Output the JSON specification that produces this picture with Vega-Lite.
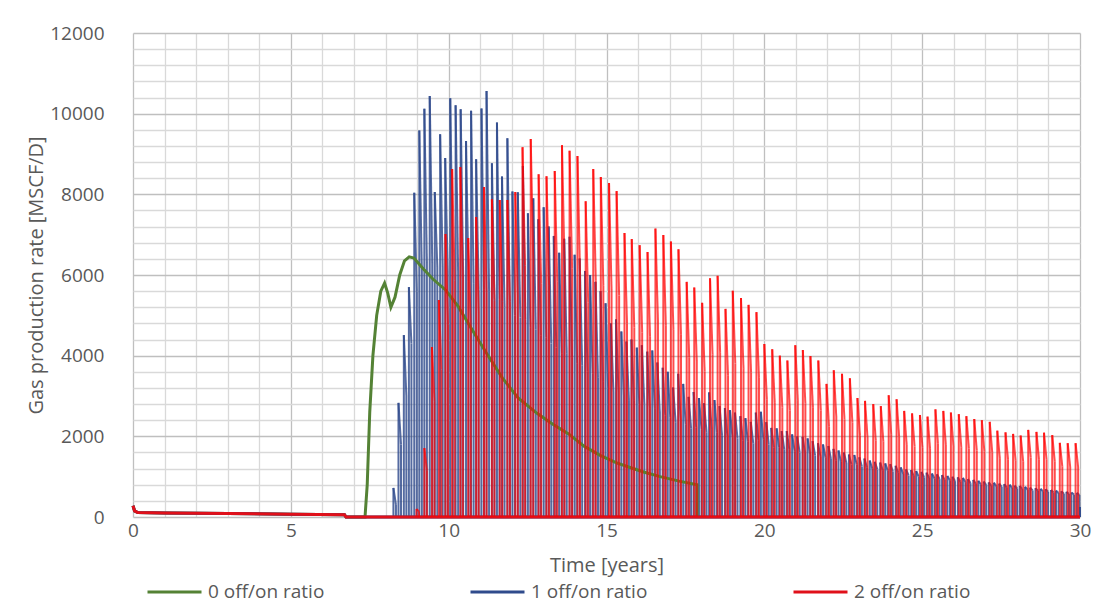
{
"$schema": "https://vega.github.io/schema/vega-lite/v6.json",
"width": 947, "height": 484,
"autosize": {"type": "none"},
"padding": {"left": 133, "top": 33, "right": 25, "bottom": 86},
"background": "white",
"config": {"view": {"stroke": null}, "font": "Open Sans",
  "axis": {"ticks": false, "domain": false, "labelFontSize": 19, "labelColor": "#595959", "titleFontSize": 20, "titleFontWeight": "normal", "titleColor": "#595959", "gridWidth": 1.3, "labelOverlap": false, "labelFlush": false}},
"datasets": {
"lines": [
{"s":"0 off/on ratio","i":0,"t":0,"v":280},{"s":"0 off/on ratio","i":1,"t":0.05,"v":150},{"s":"0 off/on ratio","i":2,"t":0.15,"v":110},{"s":"0 off/on ratio","i":3,"t":1,"v":100},{"s":"0 off/on ratio","i":4,"t":3,"v":85},{"s":"0 off/on ratio","i":5,"t":5,"v":70},{"s":"0 off/on ratio","i":6,"t":6.7,"v":55},{"s":"0 off/on ratio","i":7,"t":6.75,"v":0},{"s":"0 off/on ratio","i":8,"t":7.35,"v":0},{"s":"0 off/on ratio","i":9,"t":7.42,"v":800},{"s":"0 off/on ratio","i":10,"t":7.5,"v":2600},{"s":"0 off/on ratio","i":11,"t":7.6,"v":4000},{"s":"0 off/on ratio","i":12,"t":7.72,"v":5000},{"s":"0 off/on ratio","i":13,"t":7.85,"v":5600},{"s":"0 off/on ratio","i":14,"t":7.97,"v":5800},{"s":"0 off/on ratio","i":15,"t":8.07,"v":5550},{"s":"0 off/on ratio","i":16,"t":8.17,"v":5200},{"s":"0 off/on ratio","i":17,"t":8.3,"v":5450},{"s":"0 off/on ratio","i":18,"t":8.45,"v":6000},{"s":"0 off/on ratio","i":19,"t":8.6,"v":6350},{"s":"0 off/on ratio","i":20,"t":8.75,"v":6450},{"s":"0 off/on ratio","i":21,"t":8.9,"v":6420},{"s":"0 off/on ratio","i":22,"t":9.2,"v":6150},{"s":"0 off/on ratio","i":23,"t":9.5,"v":5900},{"s":"0 off/on ratio","i":24,"t":9.9,"v":5630},{"s":"0 off/on ratio","i":25,"t":10.3,"v":5220},{"s":"0 off/on ratio","i":26,"t":10.7,"v":4700},{"s":"0 off/on ratio","i":27,"t":11.2,"v":4060},{"s":"0 off/on ratio","i":28,"t":11.7,"v":3450},{"s":"0 off/on ratio","i":29,"t":12.2,"v":2950},{"s":"0 off/on ratio","i":30,"t":12.8,"v":2570},{"s":"0 off/on ratio","i":31,"t":13.3,"v":2300},{"s":"0 off/on ratio","i":32,"t":13.8,"v":2060},{"s":"0 off/on ratio","i":33,"t":14.3,"v":1750},{"s":"0 off/on ratio","i":34,"t":14.8,"v":1530},{"s":"0 off/on ratio","i":35,"t":15.3,"v":1350},{"s":"0 off/on ratio","i":36,"t":15.7,"v":1240},{"s":"0 off/on ratio","i":37,"t":16.2,"v":1110},{"s":"0 off/on ratio","i":38,"t":16.7,"v":1000},{"s":"0 off/on ratio","i":39,"t":17.3,"v":890},{"s":"0 off/on ratio","i":40,"t":17.87,"v":800},{"s":"0 off/on ratio","i":41,"t":17.87,"v":0},
{"s":"1 off/on ratio","i":0,"t":0,"v":280},{"s":"1 off/on ratio","i":1,"t":0.05,"v":150},{"s":"1 off/on ratio","i":2,"t":0.15,"v":110},{"s":"1 off/on ratio","i":3,"t":1,"v":100},{"s":"1 off/on ratio","i":4,"t":3,"v":85},{"s":"1 off/on ratio","i":5,"t":5,"v":70},{"s":"1 off/on ratio","i":6,"t":6.7,"v":55},{"s":"1 off/on ratio","i":7,"t":6.75,"v":0},{"s":"1 off/on ratio","i":8,"t":30,"v":0},
{"s":"2 off/on ratio","i":0,"t":0,"v":280},{"s":"2 off/on ratio","i":1,"t":0.05,"v":150},{"s":"2 off/on ratio","i":2,"t":0.15,"v":110},{"s":"2 off/on ratio","i":3,"t":1,"v":100},{"s":"2 off/on ratio","i":4,"t":3,"v":85},{"s":"2 off/on ratio","i":5,"t":5,"v":70},{"s":"2 off/on ratio","i":6,"t":6.7,"v":55},{"s":"2 off/on ratio","i":7,"t":6.75,"v":0},{"s":"2 off/on ratio","i":8,"t":30,"v":0}
],
"blue": [
{"t":8.25,"u":8.33,"p":720,"e":300},{"t":8.41,"u":8.49,"p":2830,"e":1800},{"t":8.58,"u":8.66,"p":4510,"e":3000},{"t":8.74,"u":8.82,"p":5700,"e":4300},{"t":8.91,"u":8.99,"p":8040,"e":5600},{"t":9.07,"u":9.15,"p":9580,"e":6100},{"t":9.23,"u":9.31,"p":10120,"e":6300},{"t":9.40,"u":9.48,"p":10440,"e":6300},{"t":9.56,"u":9.64,"p":8060,"e":6200},{"t":9.73,"u":9.81,"p":9490,"e":6200},{"t":9.89,"u":9.97,"p":8900,"e":6100},{"t":10.05,"u":10.13,"p":10380,"e":6150},{"t":10.22,"u":10.30,"p":10210,"e":6050},{"t":10.38,"u":10.46,"p":10110,"e":5950},{"t":10.55,"u":10.63,"p":9320,"e":5850},{"t":10.71,"u":10.79,"p":10070,"e":5800},{"t":10.87,"u":10.95,"p":8870,"e":5650},{"t":11.04,"u":11.12,"p":10130,"e":5650},{"t":11.20,"u":11.28,"p":10560,"e":5600},{"t":11.37,"u":11.45,"p":8770,"e":5400},{"t":11.53,"u":11.61,"p":9780,"e":5400},{"t":11.69,"u":11.77,"p":8440,"e":5200},{"t":11.86,"u":11.94,"p":9390,"e":5200},{"t":12.02,"u":12.10,"p":8070,"e":5000},{"t":12.19,"u":12.27,"p":8050,"e":4950},{"t":12.35,"u":12.43,"p":8700,"e":4900},{"t":12.51,"u":12.59,"p":7530,"e":4700},{"t":12.68,"u":12.76,"p":7900,"e":4650},{"t":12.84,"u":12.92,"p":7380,"e":4500},{"t":13.01,"u":13.09,"p":7680,"e":4450},{"t":13.17,"u":13.25,"p":7200,"e":4300},{"t":13.33,"u":13.41,"p":6970,"e":4200},{"t":13.50,"u":13.58,"p":6550,"e":4050},{"t":13.66,"u":13.74,"p":6900,"e":4050},{"t":13.83,"u":13.91,"p":6950,"e":3950},{"t":13.99,"u":14.07,"p":6500,"e":3800},{"t":14.15,"u":14.23,"p":6410,"e":3750},{"t":14.32,"u":14.40,"p":6100,"e":3600},{"t":14.48,"u":14.56,"p":6000,"e":3550},{"t":14.65,"u":14.73,"p":5830,"e":3450},{"t":14.81,"u":14.89,"p":5600,"e":3350},{"t":14.97,"u":15.05,"p":5300,"e":3250},{"t":15.14,"u":15.22,"p":4800,"e":3100},{"t":15.30,"u":15.38,"p":4900,"e":3100},{"t":15.47,"u":15.55,"p":4600,"e":3000},{"t":15.63,"u":15.71,"p":4350,"e":2900},{"t":15.79,"u":15.87,"p":4400,"e":2880},{"t":15.96,"u":16.04,"p":4200,"e":2800},{"t":16.12,"u":16.20,"p":4260,"e":2780},{"t":16.29,"u":16.37,"p":4100,"e":2700},{"t":16.45,"u":16.53,"p":4130,"e":2680},{"t":16.61,"u":16.69,"p":3830,"e":2580},{"t":16.78,"u":16.86,"p":3700,"e":2520},{"t":16.94,"u":17.02,"p":3600,"e":2460},{"t":17.11,"u":17.19,"p":3210,"e":2350},{"t":17.27,"u":17.35,"p":3550,"e":2400},{"t":17.43,"u":17.51,"p":3300,"e":2300},{"t":17.60,"u":17.68,"p":2980,"e":2200},{"t":17.76,"u":17.84,"p":3100,"e":2220},{"t":17.93,"u":18.01,"p":2950,"e":2170},{"t":18.09,"u":18.17,"p":2820,"e":2100},{"t":18.25,"u":18.33,"p":3090,"e":2180},{"t":18.42,"u":18.50,"p":2900,"e":2100},{"t":18.58,"u":18.66,"p":2750,"e":2030},{"t":18.75,"u":18.83,"p":2700,"e":2000},{"t":18.91,"u":18.99,"p":2650,"e":1980},{"t":19.07,"u":19.15,"p":2590,"e":1950},{"t":19.24,"u":19.32,"p":2500,"e":1900},{"t":19.40,"u":19.48,"p":2450,"e":1870},{"t":19.57,"u":19.65,"p":2360,"e":1820},{"t":19.73,"u":19.81,"p":2590,"e":1900},{"t":19.89,"u":19.97,"p":2610,"e":1920},{"t":20.06,"u":20.14,"p":2350,"e":1800},{"t":20.22,"u":20.30,"p":2210,"e":1730},{"t":20.39,"u":20.47,"p":2200,"e":1720},{"t":20.55,"u":20.63,"p":2130,"e":1680},{"t":20.71,"u":20.79,"p":2130,"e":1680},{"t":20.88,"u":20.96,"p":2050,"e":1630},{"t":21.04,"u":21.12,"p":2000,"e":1600},{"t":21.21,"u":21.29,"p":1990,"e":1590},{"t":21.37,"u":21.45,"p":1950,"e":1560},{"t":21.53,"u":21.61,"p":1880,"e":1520},{"t":21.70,"u":21.78,"p":1830,"e":1490},{"t":21.86,"u":21.94,"p":1800,"e":1470},{"t":22.03,"u":22.11,"p":1760,"e":1440},{"t":22.19,"u":22.27,"p":1690,"e":1400},{"t":22.35,"u":22.43,"p":1650,"e":1370},{"t":22.52,"u":22.60,"p":1600,"e":1340},{"t":22.68,"u":22.76,"p":1550,"e":1300},{"t":22.85,"u":22.93,"p":1540,"e":1300},{"t":23.01,"u":23.09,"p":1480,"e":1250},{"t":23.17,"u":23.25,"p":1450,"e":1230},{"t":23.34,"u":23.42,"p":1400,"e":1200},{"t":23.50,"u":23.58,"p":1370,"e":1180},{"t":23.67,"u":23.75,"p":1350,"e":1160},{"t":23.83,"u":23.91,"p":1330,"e":1150},{"t":23.99,"u":24.07,"p":1310,"e":1130},{"t":24.16,"u":24.24,"p":1270,"e":1100},{"t":24.32,"u":24.40,"p":1230,"e":1070},{"t":24.49,"u":24.57,"p":1180,"e":1030},{"t":24.65,"u":24.73,"p":1165,"e":1020},{"t":24.81,"u":24.89,"p":1140,"e":1000},{"t":24.98,"u":25.06,"p":1120,"e":985},{"t":25.14,"u":25.22,"p":1100,"e":970},{"t":25.31,"u":25.39,"p":1080,"e":955},{"t":25.47,"u":25.55,"p":1060,"e":940},{"t":25.63,"u":25.71,"p":1040,"e":920},{"t":25.80,"u":25.88,"p":1020,"e":905},{"t":25.96,"u":26.04,"p":1000,"e":890},{"t":26.13,"u":26.21,"p":985,"e":875},{"t":26.29,"u":26.37,"p":970,"e":865},{"t":26.45,"u":26.53,"p":940,"e":840},{"t":26.62,"u":26.70,"p":920,"e":825},{"t":26.78,"u":26.86,"p":900,"e":805},{"t":26.95,"u":27.03,"p":880,"e":790},{"t":27.11,"u":27.19,"p":860,"e":775},{"t":27.27,"u":27.35,"p":850,"e":765},{"t":27.44,"u":27.52,"p":830,"e":750},{"t":27.60,"u":27.68,"p":815,"e":735},{"t":27.77,"u":27.85,"p":800,"e":720},{"t":27.93,"u":28.01,"p":780,"e":705},{"t":28.09,"u":28.17,"p":770,"e":695},{"t":28.26,"u":28.34,"p":750,"e":680},{"t":28.42,"u":28.50,"p":730,"e":660},{"t":28.59,"u":28.67,"p":715,"e":650},{"t":28.75,"u":28.83,"p":700,"e":635},{"t":28.91,"u":28.99,"p":690,"e":625},{"t":29.08,"u":29.16,"p":670,"e":610},{"t":29.24,"u":29.32,"p":655,"e":595},{"t":29.41,"u":29.49,"p":640,"e":580},{"t":29.57,"u":29.65,"p":625,"e":570},{"t":29.73,"u":29.81,"p":610,"e":555},{"t":29.90,"u":29.98,"p":600,"e":545},{"t":30.00,"u":30.00,"p":250,"e":250}
],
"red": [
{"t":8.98,"u":9.06,"p":200,"e":140},{"t":9.23,"u":9.31,"p":1710,"e":1160},{"t":9.47,"u":9.55,"p":4215,"e":2870},{"t":9.69,"u":9.77,"p":5380,"e":3660},{"t":9.90,"u":9.98,"p":7015,"e":4770},{"t":10.11,"u":10.19,"p":8630,"e":5870},{"t":10.37,"u":10.45,"p":8680,"e":5900},{"t":10.62,"u":10.70,"p":6915,"e":4700},{"t":10.87,"u":10.95,"p":7440,"e":5060},{"t":11.12,"u":11.20,"p":8180,"e":5560},{"t":11.37,"u":11.45,"p":7880,"e":5360},{"t":11.62,"u":11.70,"p":7860,"e":5340},{"t":11.86,"u":11.94,"p":7860,"e":5340},{"t":12.11,"u":12.19,"p":8060,"e":5480},{"t":12.34,"u":12.42,"p":9170,"e":6240},{"t":12.60,"u":12.68,"p":9370,"e":6370},{"t":12.85,"u":12.93,"p":8500,"e":5780},{"t":13.10,"u":13.18,"p":8450,"e":5750},{"t":13.36,"u":13.44,"p":8580,"e":5830},{"t":13.59,"u":13.67,"p":9220,"e":6270},{"t":13.83,"u":13.91,"p":9080,"e":6170},{"t":14.08,"u":14.16,"p":8950,"e":6090},{"t":14.34,"u":14.42,"p":7830,"e":5320},{"t":14.58,"u":14.66,"p":8630,"e":5870},{"t":14.82,"u":14.90,"p":8430,"e":5730},{"t":15.08,"u":15.16,"p":8280,"e":5630},{"t":15.32,"u":15.40,"p":8080,"e":5490},{"t":15.57,"u":15.65,"p":7040,"e":4790},{"t":15.80,"u":15.88,"p":6890,"e":4690},{"t":16.05,"u":16.13,"p":6740,"e":4580},{"t":16.30,"u":16.38,"p":6570,"e":4470},{"t":16.55,"u":16.63,"p":7150,"e":4860},{"t":16.80,"u":16.88,"p":6990,"e":4750},{"t":17.04,"u":17.12,"p":6830,"e":4640},{"t":17.28,"u":17.36,"p":6640,"e":4520},{"t":17.54,"u":17.62,"p":5830,"e":3960},{"t":17.78,"u":17.86,"p":5690,"e":3870},{"t":18.03,"u":18.11,"p":5310,"e":3610},{"t":18.28,"u":18.36,"p":5920,"e":4030},{"t":18.52,"u":18.60,"p":5980,"e":4070},{"t":18.77,"u":18.85,"p":5160,"e":3510},{"t":19.00,"u":19.08,"p":5610,"e":3810},{"t":19.26,"u":19.34,"p":5430,"e":3690},{"t":19.50,"u":19.58,"p":5260,"e":3580},{"t":19.75,"u":19.83,"p":5080,"e":3450},{"t":20.00,"u":20.08,"p":4290,"e":2920},{"t":20.25,"u":20.33,"p":4160,"e":2830},{"t":20.49,"u":20.57,"p":4000,"e":2720},{"t":20.73,"u":20.81,"p":3880,"e":2640},{"t":20.98,"u":21.06,"p":4260,"e":2900},{"t":21.22,"u":21.30,"p":4140,"e":2820},{"t":21.46,"u":21.54,"p":3990,"e":2710},{"t":21.71,"u":21.79,"p":3880,"e":2640},{"t":21.97,"u":22.05,"p":3300,"e":2240},{"t":22.20,"u":22.28,"p":3640,"e":2480},{"t":22.46,"u":22.54,"p":3550,"e":2410},{"t":22.71,"u":22.79,"p":3440,"e":2340},{"t":22.95,"u":23.03,"p":2950,"e":2010},{"t":23.19,"u":23.27,"p":2880,"e":1960},{"t":23.45,"u":23.53,"p":2800,"e":1900},{"t":23.69,"u":23.77,"p":2750,"e":1870},{"t":23.94,"u":24.02,"p":3020,"e":2050},{"t":24.19,"u":24.27,"p":2920,"e":1990},{"t":24.43,"u":24.51,"p":2630,"e":1790},{"t":24.68,"u":24.76,"p":2570,"e":1750},{"t":24.93,"u":25.01,"p":2530,"e":1720},{"t":25.17,"u":25.25,"p":2490,"e":1690},{"t":25.42,"u":25.50,"p":2670,"e":1820},{"t":25.67,"u":25.75,"p":2630,"e":1790},{"t":25.91,"u":25.99,"p":2590,"e":1760},{"t":26.16,"u":26.24,"p":2550,"e":1730},{"t":26.40,"u":26.48,"p":2500,"e":1700},{"t":26.65,"u":26.73,"p":2430,"e":1650},{"t":26.89,"u":26.97,"p":2400,"e":1630},{"t":27.14,"u":27.22,"p":2360,"e":1600},{"t":27.38,"u":27.46,"p":2140,"e":1460},{"t":27.64,"u":27.72,"p":2100,"e":1430},{"t":27.88,"u":27.96,"p":2060,"e":1400},{"t":28.12,"u":28.20,"p":2020,"e":1370},{"t":28.36,"u":28.44,"p":2160,"e":1470},{"t":28.62,"u":28.70,"p":2110,"e":1430},{"t":28.86,"u":28.94,"p":2090,"e":1420},{"t":29.12,"u":29.20,"p":2030,"e":1380},{"t":29.36,"u":29.44,"p":1840,"e":1250},{"t":29.61,"u":29.69,"p":1830,"e":1240},{"t":29.86,"u":29.94,"p":1830,"e":1240}
]
},
"layer": [
{"data": {"name": "blue"}, "mark": {"type": "rule", "color": "#2F4B8C", "strokeWidth": 2, "opacity": 0.82},
 "encoding": {
  "x": {"field": "t", "type": "quantitative", "title": "Time [years]", "scale": {"domain": [0, 30], "nice": false},
        "axis": {"values": [0,1,2,3,4,5,6,7,8,9,10,11,12,13,14,15,16,17,18,19,20,21,22,23,24,25,26,27,28,29,30], "labelExpr": "datum.value % 5 === 0 ? datum.label : ''", "gridColor": {"condition": {"test": "datum.value % 5 === 0", "value": "#BFBFBF"}, "value": "#D9D9D9"}, "labelPadding": 4, "titlePadding": 15}},
  "y": {"field": "p", "type": "quantitative", "title": "Gas production rate [MSCF/D]", "scale": {"domain": [0, 12000], "nice": false},
        "axis": {"values": [0,400,800,1200,1600,2000,2400,2800,3200,3600,4000,4400,4800,5200,5600,6000,6400,6800,7200,7600,8000,8400,8800,9200,9600,10000,10400,10800,11200,11600,12000], "labelExpr": "datum.value % 2000 === 0 ? datum.label : ''", "format": "d", "gridColor": {"condition": {"test": "datum.value % 2000 === 0", "value": "#BFBFBF"}, "value": "#D9D9D9"}, "labelPadding": 29, "titlePadding": 3}},
  "y2": {"datum": 0}}},
{"data": {"name": "blue"}, "mark": {"type": "rule", "color": "#2F4B8C", "strokeWidth": 2, "opacity": 0.82},
 "encoding": {
  "x": {"field": "t", "type": "quantitative", "title": "Time [years]",
        "axis": {"values": [0,1,2,3,4,5,6,7,8,9,10,11,12,13,14,15,16,17,18,19,20,21,22,23,24,25,26,27,28,29,30], "labelExpr": "datum.value % 5 === 0 ? datum.label : ''", "gridColor": {"condition": {"test": "datum.value % 5 === 0", "value": "#BFBFBF"}, "value": "#D9D9D9"}, "labelPadding": 4, "titlePadding": 15}},
  "x2": {"field": "u"},
  "y": {"field": "p", "type": "quantitative", "title": "Gas production rate [MSCF/D]",
        "axis": {"values": [0,400,800,1200,1600,2000,2400,2800,3200,3600,4000,4400,4800,5200,5600,6000,6400,6800,7200,7600,8000,8400,8800,9200,9600,10000,10400,10800,11200,11600,12000], "labelExpr": "datum.value % 2000 === 0 ? datum.label : ''", "format": "d", "gridColor": {"condition": {"test": "datum.value % 2000 === 0", "value": "#BFBFBF"}, "value": "#D9D9D9"}, "labelPadding": 29, "titlePadding": 3}},
  "y2": {"field": "e"}}},
{"data": {"name": "blue"}, "mark": {"type": "rule", "color": "#2F4B8C", "strokeWidth": 2, "opacity": 0.82},
 "encoding": {
  "x": {"field": "u", "type": "quantitative", "title": "Time [years]",
        "axis": {"values": [0,1,2,3,4,5,6,7,8,9,10,11,12,13,14,15,16,17,18,19,20,21,22,23,24,25,26,27,28,29,30], "labelExpr": "datum.value % 5 === 0 ? datum.label : ''", "gridColor": {"condition": {"test": "datum.value % 5 === 0", "value": "#BFBFBF"}, "value": "#D9D9D9"}, "labelPadding": 4, "titlePadding": 15}},
  "y": {"field": "e", "type": "quantitative", "title": "Gas production rate [MSCF/D]",
        "axis": {"values": [0,400,800,1200,1600,2000,2400,2800,3200,3600,4000,4400,4800,5200,5600,6000,6400,6800,7200,7600,8000,8400,8800,9200,9600,10000,10400,10800,11200,11600,12000], "labelExpr": "datum.value % 2000 === 0 ? datum.label : ''", "format": "d", "gridColor": {"condition": {"test": "datum.value % 2000 === 0", "value": "#BFBFBF"}, "value": "#D9D9D9"}, "labelPadding": 29, "titlePadding": 3}},
  "y2": {"datum": 0}}},
{"data": {"name": "lines"}, "mark": {"type": "line", "strokeWidth": 3},
 "encoding": {
  "x": {"field": "t", "type": "quantitative", "title": "Time [years]",
        "axis": {"values": [0,1,2,3,4,5,6,7,8,9,10,11,12,13,14,15,16,17,18,19,20,21,22,23,24,25,26,27,28,29,30], "labelExpr": "datum.value % 5 === 0 ? datum.label : ''", "gridColor": {"condition": {"test": "datum.value % 5 === 0", "value": "#BFBFBF"}, "value": "#D9D9D9"}, "labelPadding": 4, "titlePadding": 15}},
  "y": {"field": "v", "type": "quantitative", "title": "Gas production rate [MSCF/D]",
        "axis": {"values": [0,400,800,1200,1600,2000,2400,2800,3200,3600,4000,4400,4800,5200,5600,6000,6400,6800,7200,7600,8000,8400,8800,9200,9600,10000,10400,10800,11200,11600,12000], "labelExpr": "datum.value % 2000 === 0 ? datum.label : ''", "format": "d", "gridColor": {"condition": {"test": "datum.value % 2000 === 0", "value": "#BFBFBF"}, "value": "#D9D9D9"}, "labelPadding": 29, "titlePadding": 3}},
  "order": {"field": "i", "type": "quantitative"},
  "color": {"field": "s", "type": "nominal", "scale": {"domain": ["0 off/on ratio", "1 off/on ratio", "2 off/on ratio"], "range": ["#548235", "#2F4B8C", "#E0101A"]},
   "legend": {"orient": "none", "legendX": 13, "legendY": 547, "direction": "horizontal", "columns": 3, "columnPadding": 144, "symbolType": "stroke", "symbolSize": 2916, "symbolStrokeWidth": 3, "clipHeight": 24, "labelFontSize": 19, "labelColor": "#595959", "labelOffset": 5, "title": null}}}},
{"data": {"name": "red"}, "mark": {"type": "rule", "color": "#FF0000", "strokeWidth": 2, "opacity": 0.7},
 "encoding": {
  "x": {"field": "t", "type": "quantitative", "title": "Time [years]",
        "axis": {"values": [0,1,2,3,4,5,6,7,8,9,10,11,12,13,14,15,16,17,18,19,20,21,22,23,24,25,26,27,28,29,30], "labelExpr": "datum.value % 5 === 0 ? datum.label : ''", "gridColor": {"condition": {"test": "datum.value % 5 === 0", "value": "#BFBFBF"}, "value": "#D9D9D9"}, "labelPadding": 4, "titlePadding": 15}},
  "y": {"field": "p", "type": "quantitative", "title": "Gas production rate [MSCF/D]",
        "axis": {"values": [0,400,800,1200,1600,2000,2400,2800,3200,3600,4000,4400,4800,5200,5600,6000,6400,6800,7200,7600,8000,8400,8800,9200,9600,10000,10400,10800,11200,11600,12000], "labelExpr": "datum.value % 2000 === 0 ? datum.label : ''", "format": "d", "gridColor": {"condition": {"test": "datum.value % 2000 === 0", "value": "#BFBFBF"}, "value": "#D9D9D9"}, "labelPadding": 29, "titlePadding": 3}},
  "y2": {"datum": 0}}},
{"data": {"name": "red"}, "mark": {"type": "rule", "color": "#FF0000", "strokeWidth": 2, "opacity": 0.7},
 "encoding": {
  "x": {"field": "t", "type": "quantitative", "title": "Time [years]",
        "axis": {"values": [0,1,2,3,4,5,6,7,8,9,10,11,12,13,14,15,16,17,18,19,20,21,22,23,24,25,26,27,28,29,30], "labelExpr": "datum.value % 5 === 0 ? datum.label : ''", "gridColor": {"condition": {"test": "datum.value % 5 === 0", "value": "#BFBFBF"}, "value": "#D9D9D9"}, "labelPadding": 4, "titlePadding": 15}},
  "x2": {"field": "u"},
  "y": {"field": "p", "type": "quantitative", "title": "Gas production rate [MSCF/D]",
        "axis": {"values": [0,400,800,1200,1600,2000,2400,2800,3200,3600,4000,4400,4800,5200,5600,6000,6400,6800,7200,7600,8000,8400,8800,9200,9600,10000,10400,10800,11200,11600,12000], "labelExpr": "datum.value % 2000 === 0 ? datum.label : ''", "format": "d", "gridColor": {"condition": {"test": "datum.value % 2000 === 0", "value": "#BFBFBF"}, "value": "#D9D9D9"}, "labelPadding": 29, "titlePadding": 3}},
  "y2": {"field": "e"}}},
{"data": {"name": "red"}, "mark": {"type": "rule", "color": "#FF0000", "strokeWidth": 2, "opacity": 0.7},
 "encoding": {
  "x": {"field": "u", "type": "quantitative", "title": "Time [years]",
        "axis": {"values": [0,1,2,3,4,5,6,7,8,9,10,11,12,13,14,15,16,17,18,19,20,21,22,23,24,25,26,27,28,29,30], "labelExpr": "datum.value % 5 === 0 ? datum.label : ''", "gridColor": {"condition": {"test": "datum.value % 5 === 0", "value": "#BFBFBF"}, "value": "#D9D9D9"}, "labelPadding": 4, "titlePadding": 15}},
  "y": {"field": "e", "type": "quantitative", "title": "Gas production rate [MSCF/D]",
        "axis": {"values": [0,400,800,1200,1600,2000,2400,2800,3200,3600,4000,4400,4800,5200,5600,6000,6400,6800,7200,7600,8000,8400,8800,9200,9600,10000,10400,10800,11200,11600,12000], "labelExpr": "datum.value % 2000 === 0 ? datum.label : ''", "format": "d", "gridColor": {"condition": {"test": "datum.value % 2000 === 0", "value": "#BFBFBF"}, "value": "#D9D9D9"}, "labelPadding": 29, "titlePadding": 3}},
  "y2": {"datum": 0}}}
]
}
